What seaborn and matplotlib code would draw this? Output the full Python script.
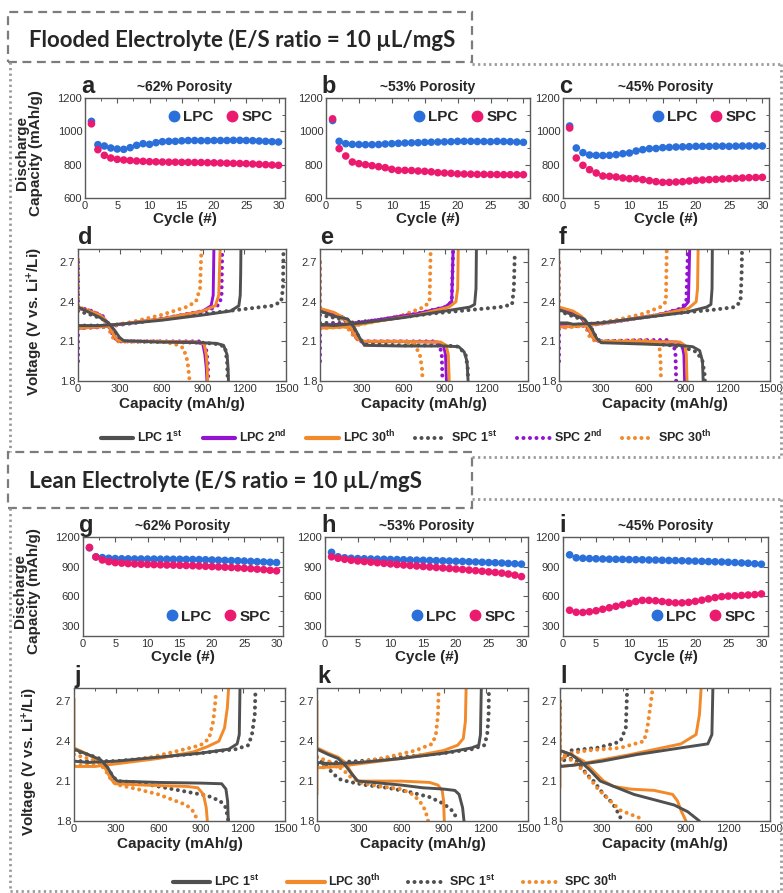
import matplotlib
matplotlib.use("Agg")
import matplotlib.pyplot as plt
import pandas as pd
import seaborn as sns
from matplotlib.lines import Line2D
from matplotlib.patches import Rectangle
from matplotlib.ticker import MultipleLocator

sns.set_theme(style="white")
plt.rcParams["font.family"] = ["Liberation Sans", "DejaVu Sans"]
plt.rcParams["mathtext.fontset"] = "custom"
plt.rcParams["mathtext.rm"] = "Liberation Sans"
plt.rcParams["mathtext.bf"] = "Liberation Sans:bold"
plt.rcParams["mathtext.default"] = "bf"

# ---------------- cycling data (discharge capacity, mAh/g) ----------------
cycles = list(range(1, 31))
a_lpc = [1060, 920, 912, 900, 894, 892, 902, 916, 926, 922, 932, 938, 940, 940, 943,
         945, 945, 944, 944, 945, 945, 945, 946, 946, 945, 944, 942, 940, 938, 936]
a_spc = [1045, 890, 856, 840, 832, 828, 825, 822, 820, 818, 817, 816, 815, 815, 814,
         814, 813, 813, 812, 811, 810, 809, 808, 807, 806, 804, 802, 800, 798, 796]
b_lpc = [1065, 940, 926, 922, 921, 920, 920, 921, 924, 926, 928, 930, 931, 932, 934,
         935, 936, 937, 938, 940, 940, 940, 939, 939, 938, 940, 939, 938, 936, 934]
b_spc = [1075, 896, 852, 816, 806, 800, 794, 788, 782, 772, 766, 766, 765, 762, 760,
         757, 752, 750, 748, 745, 744, 743, 742, 742, 741, 741, 740, 740, 740, 740]
c_lpc = [1032, 900, 872, 858, 856, 855, 856, 860, 866, 870, 882, 890, 896, 897, 902,
         904, 906, 907, 908, 910, 910, 910, 911, 911, 910, 911, 912, 912, 912, 912]
c_spc = [1020, 840, 796, 770, 750, 732, 730, 726, 720, 716, 716, 710, 704, 698, 694,
         694, 696, 698, 702, 706, 708, 710, 712, 714, 716, 718, 720, 722, 723, 724]
g_lpc = [1090, 1000, 992, 985, 982, 980, 979, 978, 978, 977, 977, 976, 976, 975, 975,
         974, 973, 972, 970, 968, 966, 964, 962, 960, 957, 954, 951, 948, 945, 942]
g_spc = [1095, 998, 968, 951, 941, 936, 931, 927, 925, 923, 921, 919, 917, 916, 914,
         912, 910, 907, 904, 901, 898, 895, 892, 888, 884, 880, 875, 870, 864, 858]
h_lpc = [1045, 1000, 990, 985, 982, 980, 978, 976, 975, 973, 972, 970, 968, 966, 965,
         963, 961, 959, 957, 955, 953, 950, 948, 945, 942, 940, 937, 933, 930, 926]
h_spc = [1000, 985, 975, 965, 958, 952, 946, 940, 934, 928, 922, 917, 912, 907, 902,
         897, 892, 887, 882, 877, 872, 866, 860, 854, 848, 842, 835, 826, 815, 800]
i_lpc = [1020, 990, 985, 982, 980, 978, 976, 975, 974, 972, 971, 970, 968, 967, 965,
         963, 962, 960, 958, 956, 954, 952, 950, 948, 945, 942, 938, 935, 930, 925]
i_spc = [460, 440, 438, 445, 455, 470, 485, 500, 515, 530, 548, 560, 560, 556, 548,
         540, 535, 535, 540, 550, 562, 575, 588, 598, 603, 606, 610, 614, 618, 625]

porosity = ["~62% Porosity", "~53% Porosity", "~45% Porosity"]

# ---------------- voltage profiles: (discharge, charge) as (capacity, V) ----------------
prof_d = {
    "SPC 1st": ([(0, 2.33), (100, 2.3), (200, 2.26), (260, 2.18), (300, 2.12), (340, 2.1), (600, 2.095),
                 (900, 2.09), (1000, 2.08), (1060, 2.06), (1075, 1.95), (1080, 1.8)],
                [(0, 2.22), (200, 2.22), (400, 2.24), (700, 2.28), (1000, 2.32), (1200, 2.345), (1400, 2.37),
                 (1465, 2.4), (1478, 2.5), (1482, 2.8)]),
    "SPC 2nd": ([(0, 2.7), (0, 2.36), (100, 2.33), (180, 2.29), (220, 2.22), (260, 2.13), (300, 2.1),
                 (600, 2.1), (880, 2.1), (920, 2.07), (935, 1.95), (940, 1.8)],
                [(0, 1.95), (0, 2.2), (200, 2.21), (400, 2.24), (700, 2.29), (950, 2.34), (1020, 2.38),
                 (1035, 2.45), (1040, 2.8)]),
    "SPC 30th": ([(0, 2.72), (0, 2.36), (100, 2.33), (170, 2.29), (210, 2.22), (250, 2.13), (290, 2.1),
                  (600, 2.1), (700, 2.08), (760, 2.05), (790, 1.95), (805, 1.8)],
                 [(0, 2.2), (200, 2.21), (400, 2.25), (600, 2.3), (780, 2.36), (850, 2.4), (880, 2.5),
                  (890, 2.8)]),
    "LPC 2nd": ([(0, 2.35), (80, 2.33), (160, 2.3), (200, 2.26), (240, 2.18), (280, 2.11), (320, 2.1),
                 (600, 2.1), (850, 2.095), (900, 2.08), (915, 2.0), (925, 1.9), (930, 1.8)],
                [(0, 2.2), (150, 2.21), (300, 2.23), (600, 2.27), (900, 2.33), (960, 2.37), (975, 2.45),
                 (980, 2.8)]),
    "LPC 30th": ([(0, 2.35), (80, 2.33), (160, 2.3), (200, 2.26), (240, 2.18), (280, 2.11), (320, 2.1),
                  (600, 2.1), (860, 2.095), (910, 2.08), (925, 2.0), (932, 1.9), (935, 1.8)],
                 [(0, 2.2), (150, 2.21), (300, 2.23), (600, 2.27), (900, 2.33), (990, 2.37), (1015, 2.45),
                  (1025, 2.8)]),
    "LPC 1st": ([(0, 2.36), (80, 2.32), (160, 2.28), (220, 2.24), (260, 2.19), (300, 2.13), (330, 2.105),
                 (600, 2.095), (900, 2.09), (1000, 2.085), (1050, 2.07), (1075, 2.0), (1082, 1.9), (1085, 1.8)],
                [(0, 2.22), (150, 2.22), (300, 2.23), (600, 2.26), (900, 2.3), (1100, 2.33), (1160, 2.37),
                 (1170, 2.45), (1173, 2.6), (1175, 2.8)]),
}
prof_e = {
    "SPC 1st": ([(0, 2.3), (100, 2.28), (180, 2.26), (240, 2.2), (290, 2.12), (320, 2.08), (600, 2.07),
                 (900, 2.07), (1000, 2.06), (1050, 2.0), (1065, 1.9), (1068, 1.8)],
                [(0, 2.24), (200, 2.24), (500, 2.27), (800, 2.31), (1100, 2.34), (1300, 2.36), (1385, 2.38),
                 (1398, 2.5), (1405, 2.78)]),
    "SPC 2nd": ([(0, 2.7), (0, 2.33), (100, 2.31), (170, 2.28), (210, 2.22), (260, 2.13), (290, 2.1),
                 (600, 2.1), (820, 2.1), (860, 2.08), (878, 2.0), (883, 1.8)],
                [(0, 1.95), (0, 2.22), (200, 2.23), (400, 2.26), (700, 2.31), (900, 2.36), (950, 2.4),
                 (960, 2.8)]),
    "SPC 30th": ([(0, 2.7), (0, 2.34), (100, 2.31), (160, 2.27), (200, 2.2), (250, 2.13), (290, 2.1),
                  (600, 2.1), (680, 2.08), (720, 2.0), (735, 1.9), (740, 1.8)],
                 [(0, 2.2), (200, 2.21), (400, 2.25), (600, 2.3), (750, 2.36), (790, 2.4), (798, 2.8)]),
    "LPC 2nd": ([(0, 2.33), (100, 2.31), (170, 2.28), (210, 2.22), (260, 2.13), (300, 2.1), (600, 2.1),
                 (850, 2.095), (890, 2.07), (905, 2.0), (912, 1.8)],
                [(0, 2.22), (200, 2.23), (400, 2.26), (700, 2.31), (900, 2.36), (950, 2.4), (960, 2.8)]),
    "LPC 30th": ([(0, 2.35), (100, 2.32), (170, 2.28), (210, 2.22), (260, 2.13), (300, 2.1), (600, 2.1),
                  (870, 2.095), (910, 2.07), (925, 2.0), (932, 1.8)],
                 [(0, 2.2), (200, 2.21), (400, 2.25), (700, 2.3), (930, 2.36), (980, 2.4), (993, 2.5),
                  (997, 2.8)]),
    "LPC 1st": ([(0, 2.33), (100, 2.29), (200, 2.27), (250, 2.2), (290, 2.12), (320, 2.07), (600, 2.065),
                 (900, 2.065), (1000, 2.06), (1040, 2.02), (1060, 1.95), (1068, 1.8)],
                [(0, 2.23), (100, 2.22), (300, 2.24), (600, 2.28), (900, 2.33), (1080, 2.36), (1115, 2.38),
                 (1125, 2.5), (1128, 2.8)]),
}
prof_f = {
    "SPC 1st": ([(0, 2.33), (100, 2.29), (180, 2.26), (230, 2.2), (270, 2.12), (300, 2.1), (600, 2.09),
                 (800, 2.07), (900, 2.05), (980, 2.02), (1020, 1.95), (1035, 1.85), (1037, 1.8)],
                [(0, 2.22), (200, 2.23), (500, 2.27), (800, 2.31), (1100, 2.34), (1250, 2.36), (1290, 2.4),
                 (1298, 2.6), (1301, 2.78)]),
    "SPC 2nd": ([(0, 2.7), (0, 2.35), (100, 2.32), (160, 2.28), (200, 2.21), (240, 2.13), (280, 2.1),
                 (600, 2.11), (780, 2.11), (815, 2.08), (828, 2.0), (833, 1.8)],
                [(0, 1.95), (0, 2.21), (200, 2.22), (400, 2.25), (700, 2.3), (870, 2.35), (905, 2.4),
                 (917, 2.8)]),
    "SPC 30th": ([(0, 2.7), (0, 2.35), (100, 2.32), (160, 2.28), (190, 2.21), (220, 2.13), (260, 2.1),
                  (600, 2.11), (690, 2.1), (715, 2.05), (722, 1.95), (725, 1.8)],
                 [(0, 2.2), (200, 2.22), (400, 2.26), (600, 2.31), (720, 2.36), (760, 2.4), (766, 2.8)]),
    "LPC 2nd": ([(0, 2.35), (100, 2.32), (160, 2.28), (200, 2.21), (240, 2.13), (280, 2.1), (600, 2.1),
                 (840, 2.095), (875, 2.07), (888, 2.0), (893, 1.8)],
                [(0, 2.22), (200, 2.22), (400, 2.25), (700, 2.3), (880, 2.35), (920, 2.4), (929, 2.8)]),
    "LPC 30th": ([(0, 2.36), (100, 2.33), (160, 2.29), (200, 2.22), (240, 2.13), (280, 2.1), (600, 2.1),
                  (860, 2.095), (895, 2.07), (905, 2.0), (910, 1.8)],
                 [(0, 2.21), (200, 2.22), (400, 2.25), (700, 2.3), (920, 2.35), (975, 2.4), (985, 2.5),
                  (989, 2.8)]),
    "LPC 1st": ([(0, 2.34), (100, 2.3), (180, 2.27), (230, 2.2), (270, 2.12), (300, 2.09), (600, 2.08),
                 (850, 2.07), (950, 2.06), (1000, 2.03), (1020, 1.95), (1025, 1.8)],
                [(0, 2.24), (60, 2.24), (100, 2.23), (300, 2.24), (600, 2.28), (900, 2.32), (1050, 2.36),
                 (1080, 2.38), (1088, 2.5), (1090, 2.8)]),
}
prof_j = {
    "SPC 1st": ([(0, 2.33), (100, 2.3), (180, 2.27), (230, 2.21), (280, 2.13), (310, 2.1), (450, 2.09),
                 (600, 2.06), (800, 2.02), (950, 1.99), (1040, 1.95), (1080, 1.9), (1097, 1.8)],
                [(0, 2.25), (100, 2.25), (300, 2.25), (600, 2.28), (900, 2.31), (1150, 2.34), (1240, 2.37),
                 (1265, 2.45), (1285, 2.6), (1290, 2.78)]),
    "SPC 30th": ([(0, 2.3), (100, 2.27), (180, 2.24), (230, 2.17), (270, 2.1), (320, 2.07), (450, 2.04),
                  (600, 2.0), (700, 1.96), (800, 1.92), (850, 1.87), (880, 1.8)],
                 [(0, 2.22), (150, 2.22), (300, 2.24), (550, 2.28), (750, 2.33), (900, 2.37), (960, 2.42),
                  (990, 2.55), (1005, 2.7), (1010, 2.78)]),
    "LPC 30th": ([(0, 2.72), (0, 2.35), (100, 2.3), (180, 2.25), (220, 2.2), (260, 2.12), (290, 2.08),
                  (500, 2.07), (800, 2.06), (880, 2.05), (920, 2.0), (940, 1.9), (948, 1.8)],
                 [(0, 2.21), (150, 2.21), (300, 2.23), (600, 2.27), (850, 2.32), (950, 2.36), (1030, 2.4),
                  (1070, 2.5), (1090, 2.65), (1099, 2.8)]),
    "LPC 1st": ([(0, 2.34), (100, 2.3), (190, 2.26), (240, 2.2), (280, 2.13), (310, 2.1), (600, 2.09),
                 (900, 2.085), (1050, 2.08), (1080, 2.04), (1092, 1.95), (1097, 1.8)],
                [(0, 2.25), (100, 2.24), (300, 2.25), (600, 2.28), (900, 2.31), (1100, 2.34), (1160, 2.38),
                 (1175, 2.45), (1180, 2.8)]),
}
prof_k = {
    "SPC 1st": ([(0, 2.28), (60, 2.22), (120, 2.15), (170, 2.11), (250, 2.09), (350, 2.07), (500, 2.05),
                 (650, 2.02), (800, 1.98), (900, 1.93), (970, 1.87), (1000, 1.8)],
                [(0, 2.22), (100, 2.24), (300, 2.25), (600, 2.28), (900, 2.31), (1100, 2.34), (1190, 2.37),
                 (1210, 2.45), (1220, 2.6), (1222, 2.78)]),
    "SPC 30th": ([(0, 2.28), (80, 2.25), (140, 2.22), (200, 2.17), (240, 2.13), (300, 2.09), (450, 2.06),
                  (600, 2.04), (680, 2.0), (730, 1.95), (770, 1.88), (790, 1.8)],
                 [(0, 2.2), (150, 2.21), (300, 2.24), (500, 2.28), (700, 2.33), (820, 2.38), (845, 2.45),
                  (860, 2.6), (865, 2.8)]),
    "LPC 30th": ([(0, 2.7), (0, 2.35), (80, 2.31), (150, 2.28), (200, 2.24), (240, 2.17), (280, 2.11),
                  (300, 2.1), (600, 2.1), (800, 2.09), (860, 2.07), (890, 2.03), (900, 1.95), (905, 1.8)],
                 [(0, 2.0), (0, 2.2), (150, 2.21), (300, 2.23), (600, 2.27), (900, 2.33), (1000, 2.37),
                  (1040, 2.42), (1055, 2.55), (1060, 2.8)]),
    "LPC 1st": ([(0, 2.34), (80, 2.3), (150, 2.27), (200, 2.22), (250, 2.15), (290, 2.1), (400, 2.09),
                 (600, 2.07), (750, 2.05), (900, 2.04), (980, 2.03), (1010, 2.0), (1035, 1.9), (1045, 1.8)],
                [(0, 2.24), (100, 2.23), (300, 2.24), (600, 2.27), (900, 2.31), (1100, 2.35), (1150, 2.37),
                 (1162, 2.45), (1168, 2.8)]),
}
prof_l = {
    "SPC 1st": ([(0, 2.7), (0, 2.3), (120, 2.25), (192, 2.15), (240, 2.1), (312, 2.0), (360, 1.95),
                 (396, 1.9), (420, 1.85), (444, 1.8)],
                [(0, 2.22), (48, 2.28), (72, 2.33), (264, 2.35), (380, 2.38), (432, 2.4), (470, 2.5),
                 (480, 2.8)]),
    "SPC 30th": ([(0, 2.6), (0, 2.3), (96, 2.25), (192, 2.15), (264, 2.05), (360, 1.95), (432, 1.88),
                  (504, 1.85), (576, 1.82), (600, 1.8)],
                 [(0, 2.22), (24, 2.3), (192, 2.33), (432, 2.35), (600, 2.4), (624, 2.5), (650, 2.7),
                  (660, 2.78)]),
    "LPC 30th": ([(0, 2.7), (0, 2.33), (80, 2.3), (168, 2.25), (264, 2.15), (312, 2.1), (384, 2.06),
                  (504, 2.04), (672, 2.03), (804, 2.0), (840, 1.95), (864, 1.88), (900, 1.8)],
                 [(0, 2.05), (0, 2.21), (100, 2.22), (300, 2.26), (504, 2.3), (864, 2.38), (972, 2.45),
                  (996, 2.6), (1008, 2.8)]),
    "LPC 1st": ([(0, 2.33), (80, 2.3), (144, 2.25), (216, 2.18), (288, 2.1), (408, 2.05), (528, 2.0),
                 (672, 1.96), (816, 1.92), (912, 1.87), (972, 1.82), (996, 1.8)],
                [(0, 2.21), (100, 2.22), (300, 2.25), (552, 2.3), (864, 2.35), (1056, 2.38), (1085, 2.45),
                 (1092, 2.8)]),
}

GRAY, PURPLE, ORANGE = "#505050", "#9412d2", "#f28a2a"
BLUE, PINK = "#2b6fdb", "#ec1a6f"
series_style = {
    "LPC 1st": (GRAY, False), "LPC 2nd": (PURPLE, False), "LPC 30th": (ORANGE, False),
    "SPC 1st": (GRAY, True), "SPC 2nd": (PURPLE, True), "SPC 30th": (ORANGE, True),
}
legend_labels = {
    "LPC 1st": "LPC 1$^{st}$", "LPC 2nd": "LPC 2$^{nd}$", "LPC 30th": "LPC 30$^{th}$",
    "SPC 1st": "SPC 1$^{st}$", "SPC 2nd": "SPC 2$^{nd}$", "SPC 30th": "SPC 30$^{th}$",
}
DOTS = dict(lw=2.9, linestyle=(0, (0.01, 1.6)), dash_capstyle="round")

W, H = 783, 893
fig = plt.figure(figsize=(W / 100, H / 100), dpi=100)
fig.patch.set_facecolor("white")


def px_box(l, t, r, b):
    return [l / W, 1 - b / H, (r - l) / W, (b - t) / H]


def style_axes(ax):
    for sp in ax.spines.values():
        sp.set_color("#5a5a5a")
        sp.set_linewidth(1.0)
    ax.tick_params(which="both", direction="in", top=True, right=True, color="#5a5a5a",
                   labelsize=8, labelcolor="#333333", pad=2)
    ax.tick_params(which="major", length=3.5, width=0.8)
    ax.tick_params(which="minor", length=2, width=0.7)


def cycling_panel(ax, lpc, spc, title, letter, top_row, ylabel):
    sns.scatterplot(x=cycles, y=lpc, color=BLUE, s=30, edgecolor="none", ax=ax, zorder=3)
    sns.scatterplot(x=cycles, y=spc, color=PINK, s=30, edgecolor="none", ax=ax, zorder=3)
    ax.set_xlim(0, 31)
    ax.set_xticks(range(0, 31, 5))
    ax.xaxis.set_minor_locator(MultipleLocator(2.5))
    if top_row:
        ax.set_ylim(600, 1200)
        ax.set_yticks([600, 800, 1000, 1200])
        ax.yaxis.set_minor_locator(MultipleLocator(100))
    else:
        ax.set_ylim(200, 1200)
        ax.set_yticks([300, 600, 900, 1200])
        ax.yaxis.set_minor_locator(MultipleLocator(150))
    style_axes(ax)
    ax.set_xlabel("Cycle (#)", fontsize=11, fontweight="bold", labelpad=1)
    if ylabel:
        ax.set_ylabel("Discharge\nCapacity (mAh/g)", fontsize=11, fontweight="bold", linespacing=1.0)
        ax.yaxis.set_label_coords(-0.21, 0.45)
    else:
        ax.set_ylabel("")
    ax.set_title(title, fontsize=10, fontweight="bold", pad=5)
    ax.text(-0.02, 1.0, letter, transform=ax.transAxes, fontsize=17, fontweight="bold",
            ha="left", va="bottom")
    handles = [Line2D([], [], marker="o", ls="", color=BLUE, markersize=7.5),
               Line2D([], [], marker="o", ls="", color=PINK, markersize=7.5)]
    ax.legend(handles, ["LPC", "SPC"], loc="upper right" if top_row else "lower right", ncol=2,
              frameon=False, handlelength=0.7, handletextpad=0.25, columnspacing=0.9, borderaxespad=0.4,
              prop={"size": 11, "weight": "bold"})


def profile_panel(ax, prof, letter, ylabel):
    for name, branches in prof.items():
        color, dotted = series_style[name]
        for br in branches:
            df = pd.DataFrame(br, columns=["cap", "v"])
            kw = DOTS if dotted else dict(lw=2.1)
            sns.lineplot(data=df, x="cap", y="v", sort=False, estimator=None, color=color, ax=ax, **kw)
    ax.set_xlim(0, 1500)
    ax.set_ylim(1.8, 2.8)
    ax.set_xticks(range(0, 1501, 300))
    ax.set_yticks([1.8, 2.1, 2.4, 2.7])
    ax.xaxis.set_minor_locator(MultipleLocator(150))
    ax.yaxis.set_minor_locator(MultipleLocator(0.15))
    style_axes(ax)
    ax.set_xlabel("Capacity (mAh/g)", fontsize=11, fontweight="bold", labelpad=2)
    if ylabel:
        ax.set_ylabel("Voltage (V vs. Li$^{+}$/Li)", fontsize=11, fontweight="bold")
        ax.yaxis.set_label_coords(-0.16, 0.45)
    else:
        ax.set_ylabel("")
    ax.text(0.0, 1.0, letter, transform=ax.transAxes, fontsize=17, fontweight="bold",
            ha="left", va="bottom")


# ---------------- panels ----------------
top_cyc = [(a_lpc, a_spc, "a", (85, 98, 285, 198)),
           (b_lpc, b_spc, "b", (326, 98, 530, 198)),
           (c_lpc, c_spc, "c", (563, 98, 769, 198))]
for k, (lpc, spc, letter, bx) in enumerate(top_cyc):
    ax = fig.add_axes(px_box(*bx))
    cycling_panel(ax, lpc, spc, porosity[k], letter, True, k == 0)

low_cyc = [(g_lpc, g_spc, "g", (83, 537, 283, 636)),
           (h_lpc, h_spc, "h", (325, 537, 528, 636)),
           (i_lpc, i_spc, "i", (563, 537, 768, 636))]
for k, (lpc, spc, letter, bx) in enumerate(low_cyc):
    ax = fig.add_axes(px_box(*bx))
    cycling_panel(ax, lpc, spc, porosity[k], letter, False, k == 0)

top_prof = [(prof_d, "d", (78, 249, 286, 381)),
            (prof_e, "e", (320, 249, 528, 381)),
            (prof_f, "f", (559, 249, 770, 381))]
for k, (prof, letter, bx) in enumerate(top_prof):
    ax = fig.add_axes(px_box(*bx))
    profile_panel(ax, prof, letter, k == 0)

low_prof = [(prof_j, "j", (74, 688, 285, 821)),
            (prof_k, "k", (317, 688, 528, 821)),
            (prof_l, "l", (560, 688, 770, 821))]
for k, (prof, letter, bx) in enumerate(low_prof):
    ax = fig.add_axes(px_box(*bx))
    profile_panel(ax, prof, letter, k == 0)


# ---------------- figure legends ----------------
def profile_handles(names):
    hs = []
    for n in names:
        color, dotted = series_style[n]
        hs.append(Line2D([], [], color=color, **(DOTS if dotted else dict(lw=3))))
    return hs


names1 = ["LPC 1st", "LPC 2nd", "LPC 30th", "SPC 1st", "SPC 2nd", "SPC 30th"]
fig.legend(profile_handles(names1), [legend_labels[n] for n in names1], loc="center",
           bbox_to_anchor=(406 / W, 1 - 437 / H), ncol=6, frameon=False, handlelength=2.6,
           handletextpad=0.3, columnspacing=1.6, prop={"size": 9, "weight": "bold"})
names2 = ["LPC 1st", "LPC 30th", "SPC 1st", "SPC 30th"]
fig.legend(profile_handles(names2), [legend_labels[n] for n in names2], loc="center",
           bbox_to_anchor=(395 / W, 1 - 881 / H), ncol=4, frameon=False, handlelength=3.0,
           handletextpad=0.3, columnspacing=2.2, prop={"size": 9, "weight": "bold"})


# ---------------- section frames ----------------
def fig_line(x0, y0, x1, y1, **kw):
    fig.add_artist(Line2D([x0 / W, x1 / W], [1 - y0 / H, 1 - y1 / H], transform=fig.transFigure, **kw))


dot_kw = dict(color="#9a9a9a", lw=2.0, linestyle=(0, (0.8, 1.2)))
fig_line(10, 62, 10, 452, **dot_kw)
fig_line(472, 64, 781, 64, **dot_kw)
fig_line(781, 64, 781, 457, **dot_kw)
fig_line(472, 457, 781, 457, **dot_kw)
fig_line(10, 508, 10, 891, **dot_kw)
fig_line(472, 499, 781, 499, **dot_kw)
fig_line(781, 499, 781, 891, **dot_kw)
fig_line(10, 891, 781, 891, **dot_kw)

for (t, b) in [(12, 62), (452, 508)]:
    fig.add_artist(Rectangle((8 / W, 1 - b / H), 464 / W, (b - t) / H, transform=fig.transFigure,
                             fill=True, fc="white", ec="#7c7c7c", lw=1.6, linestyle=(0, (4, 2.5))))

fig.text(29 / W, 1 - 40 / H, "Flooded Electrolyte (E/S ratio = 10 µL/mgS", fontsize=16,
         fontweight="bold", family=["Lato", "DejaVu Sans"], va="center", ha="left")
fig.text(29 / W, 1 - 481 / H, "Lean Electrolyte (E/S ratio = 10 µL/mgS", fontsize=16,
         fontweight="bold", family=["Lato", "DejaVu Sans"], va="center", ha="left")

fig.savefig("out.png", dpi=100, facecolor="white")
